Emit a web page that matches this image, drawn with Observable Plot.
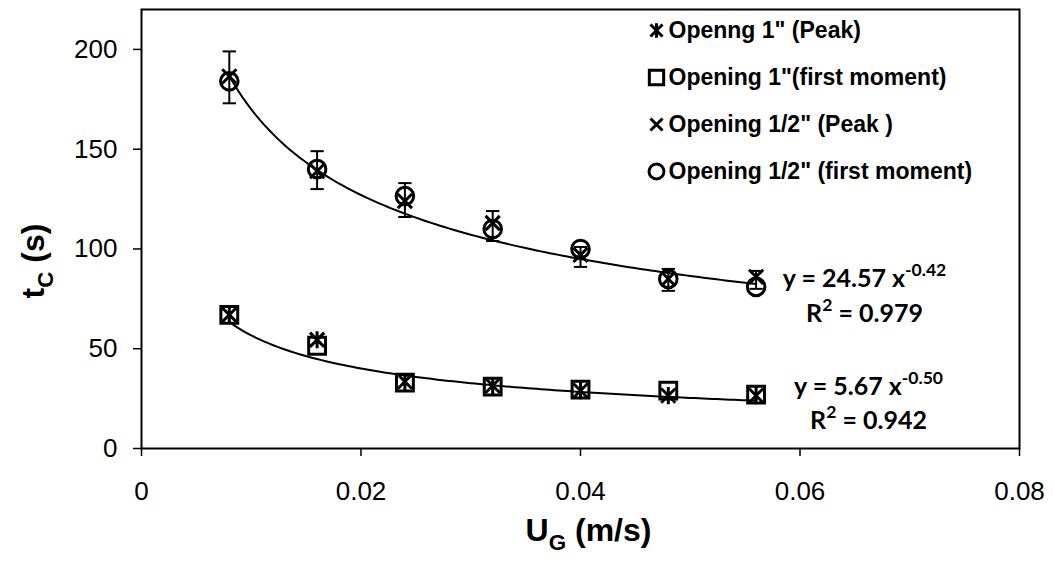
<!DOCTYPE html>
<html>
<head>
<meta charset="utf-8">
<script src="https://cdn.jsdelivr.net/npm/d3@7"></script>
<script src="https://cdn.jsdelivr.net/npm/@observablehq/plot@0.6"></script>
<style>
  html, body { margin: 0; padding: 0; background: #ffffff; }
  #chart { width: 1053px; height: 561px; }
</style>
</head>
<body>
<div id="chart"></div>
<script>
// ---- data ----
const ug = [0.008, 0.016, 0.024, 0.032, 0.040, 0.048, 0.056];            // U_G (m/s)
const peak1 = [67, 54.5, 33.5, 31.5, 29, 26.5, 26.5];                    // Openng 1" (Peak)
const first1 = [67, 51.5, 33, 31, 29.5, 29, 27];                         // Opening 1"(first moment)
const peakHalf = [186.5, 139, 124, 113, 97, 85, 86];                     // Opening 1/2" (Peak )
const firstHalf = [184, 140, 126.5, 110, 100, 85, 81];                   // Opening 1/2" (first moment)
const errLow = [173, 130, 116, 104, 91, 79, 80];                         // error bar lower ends (1/2")
const errHigh = [199, 149, 133, 119, 101, 90, 89];                       // error bar upper ends (1/2")
const fitA = [24.57, 5.67];                                              // power-law coefficients
const fitB = [-0.42, -0.50];                                             // power-law exponents
const fitLabels = ["y = 24.57 x^{-0.42}", "y = 5.67 x^{-0.50}"];
const r2Labels = ["R^{2} = 0.979", "R^{2} = 0.942"];
const legendLabels = ["Openng 1\" (Peak)", "Opening 1\"(first moment)", "Opening 1/2\" (Peak )", "Opening 1/2\" (first moment)"];
const xTicks = [0, 0.02, 0.04, 0.06, 0.08];
const xTickLabels = ["0", "0.02", "0.04", "0.06", "0.08"];
const yTicks = [0, 50, 100, 150, 200];
const xLabel = "U_{G} (m/s)";
const yLabel = "t_{C} (s)";

// ---- marker shapes (Excel-like) ----
const starSym = {draw(ctx, size) { const s = Math.sqrt(size) / 2;
  ctx.moveTo(-s, -s); ctx.lineTo(s, s); ctx.moveTo(-s, s); ctx.lineTo(s, -s);
  ctx.moveTo(0, -s * 1.2); ctx.lineTo(0, s * 1.2); }};
const timesSym = {draw(ctx, size) { const s = Math.sqrt(size) / 2;
  ctx.moveTo(-s, -s); ctx.lineTo(s, s); ctx.moveTo(-s, s); ctx.lineTo(s, -s); }};
const capSym = {draw(ctx, size) { const s = Math.sqrt(size) / 2;
  ctx.moveTo(-s, 0); ctx.lineTo(s, 0); }};

const rows = ug.map((x, i) => ({x, peak1: peak1[i], first1: first1[i], peakHalf: peakHalf[i],
  firstHalf: firstHalf[i], lo: errLow[i], hi: errHigh[i]}));

const fitCurves = fitA.map((a, k) => {
  const n = 120, x0 = ug[0], x1 = ug[ug.length - 1];
  return d3.range(n + 1).map(i => { const x = x0 + (x1 - x0) * i / n; return {x, y: a * Math.pow(x, fitB[k]), k}; });
}).flat();

const symbols = [starSym, "square", timesSym, "circle"];
const symR = [8, 9.5, 8, 8.8];
const seriesKeys = ["peak1", "first1", "peakHalf", "firstHalf"];

const mL = 141, mT = 9;
const marks = [];

// fit curves
marks.push(Plot.line(fitCurves, {x: "x", y: "y", z: "k", stroke: "#000", strokeWidth: 2, curve: "linear"}));
// error bars
marks.push(Plot.ruleX(rows, {x: "x", y1: "lo", y2: "hi", stroke: "#000", strokeWidth: 2}));
marks.push(Plot.dot(rows, {x: "x", y: "lo", symbol: capSym, r: 7.5, stroke: "#000", strokeWidth: 2}));
marks.push(Plot.dot(rows, {x: "x", y: "hi", symbol: capSym, r: 7.5, stroke: "#000", strokeWidth: 2}));
// series markers
seriesKeys.forEach((key, i) => {
  marks.push(Plot.dot(rows, {x: "x", y: key, symbol: symbols[i], r: symR[i], stroke: "#000", strokeWidth: 3, fill: "none"}));
});
// legend
legendLabels.forEach((lab, i) => {
  const cy = 30 + 47 * i - mT;
  marks.push(Plot.dot([lab], {frameAnchor: "top-left", dx: 656 - mL, dy: cy, symbol: symbols[i], r: symR[i] * 0.85, stroke: "#000", strokeWidth: 3, fill: "none"}));
  marks.push(Plot.text([lab], {frameAnchor: "top-left", dx: 668 - mL, dy: cy, text: d => d, textAnchor: "start", lineAnchor: "middle",
    fontSize: 23, fontWeight: "bold", fontFamily: "Liberation Sans, Arial, sans-serif", fill: "#000"}));
});
// fit equations
const eqPos = [[864, 278, 313], [868, 386, 420]];
fitLabels.forEach((lab, k) => {
  marks.push(Plot.text([lab], {frameAnchor: "top-left", dx: eqPos[k][0] - mL, dy: eqPos[k][1] - mT, text: d => d, textAnchor: "middle", lineAnchor: "middle",
    fontSize: 25, fontWeight: "bold", fontFamily: "Lato, sans-serif", fill: "#000"}));
  marks.push(Plot.text([r2Labels[k]], {frameAnchor: "top-left", dx: eqPos[k][0] - mL, dy: eqPos[k][2] - mT, text: d => d, textAnchor: "middle", lineAnchor: "middle",
    fontSize: 25, fontWeight: "bold", fontFamily: "Lato, sans-serif", fill: "#000"}));
});
// axes
marks.push(Plot.axisY(yTicks, {tickSize: 8, tickPadding: 16, fontSize: 26, stroke: "#000", strokeWidth: 1.5, label: null, fontFamily: "Liberation Sans, Arial, sans-serif"}));
marks.push(Plot.axisX(xTicks, {tickSize: 8, tickPadding: 25, fontSize: 26, stroke: "#000", strokeWidth: 1.5, label: null,
  tickFormat: d => xTickLabels[xTicks.indexOf(d)], fontFamily: "Liberation Sans, Arial, sans-serif"}));
marks.push(Plot.frame({stroke: "#000", strokeWidth: 2}));
// axis titles
marks.push(Plot.text([yLabel], {frameAnchor: "left", dx: -108, dy: 32, rotate: -90, text: d => d, textAnchor: "middle", lineAnchor: "middle",
  fontSize: 32, fontWeight: "bold", fontFamily: "Liberation Sans, Arial, sans-serif", fill: "#000"}));
marks.push(Plot.text([xLabel], {frameAnchor: "bottom", dx: 8, dy: 82, text: d => d, textAnchor: "middle", lineAnchor: "middle",
  fontSize: 32, fontWeight: "bold", fontFamily: "Liberation Sans, Arial, sans-serif", fill: "#000"}));

const plot = Plot.plot({
  width: 1053, height: 561,
  marginLeft: mL, marginRight: 34, marginTop: mT, marginBottom: 113,
  style: {background: "#fff", color: "#000", fontSize: "26px", fontFamily: "Liberation Sans, Arial, sans-serif", overflow: "visible"},
  x: {domain: [0, 0.08], axis: null},
  y: {domain: [0, 220], axis: null},
  marks
});
document.getElementById("chart").appendChild(plot);

// rich text: x^{sup} and x_{sub}
d3.select(plot).selectAll("text").each(function() {
  const el = this;
  const s = el.textContent;
  if (!/[_^]\{/.test(s)) return;
  const fs = parseFloat(getComputedStyle(el).fontSize) || 20;
  const parts = s.split(/([_^]\{[^}]*\})/).filter(p => p.length);
  while (el.firstChild) el.removeChild(el.firstChild);
  let shift = 0;
  for (const p of parts) {
    const t = document.createElementNS("http://www.w3.org/2000/svg", "tspan");
    const m = p.match(/^([_^])\{([^}]*)\}$/);
    let target = 0, txt = p;
    if (m) { txt = m[2]; target = m[1] === "^" ? -0.42 * fs : 0.28 * fs; t.setAttribute("font-size", (0.7 * fs) + "px"); }
    if (target - shift !== 0) t.setAttribute("dy", (target - shift) + "px");
    shift = target;
    t.textContent = txt;
    el.appendChild(t);
  }
});
</script>
</body>
</html>
